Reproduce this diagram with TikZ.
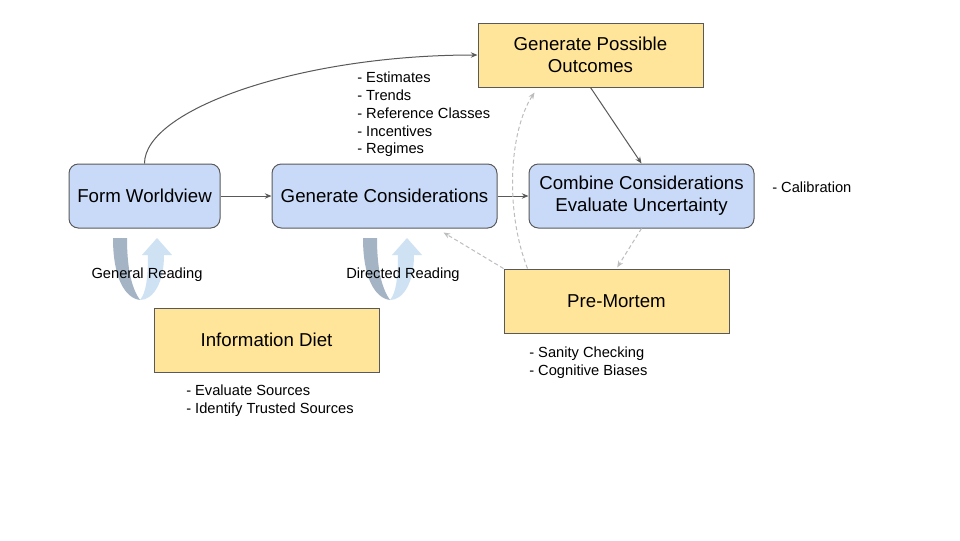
\documentclass[tikz,border=0pt]{standalone}
\usepackage{fontspec}
\setmainfont{Liberation Sans}
\usepackage{xcolor}
\usetikzlibrary{arrows.meta}
\definecolor{boxblue}{HTML}{C9DAF8}
\definecolor{boxyellow}{HTML}{FFE599}
\definecolor{edgegray}{HTML}{595959}
\definecolor{dashgray}{HTML}{BDBDBD}
\definecolor{banddark}{HTML}{A4B4C4}
\definecolor{bandlight}{HTML}{CFE2F3}
\tikzset{
  bluebox/.style={draw=edgegray, fill=boxblue, rounded corners=7pt, line width=0.75pt,
    minimum height=48pt, minimum width=168.75pt, align=center, font=\fontsize{14}{16.5}\selectfont},
  yellowbox/.style={draw=edgegray, fill=boxyellow, line width=0.75pt,
    minimum height=48pt, minimum width=168.75pt, align=center, font=\fontsize{14}{16.5}\selectfont},
  conn/.style={draw=edgegray, line width=0.75pt, -{Stealth[length=5pt,width=4pt]}},
  dashconn/.style={draw=dashgray, line width=0.75pt, dash pattern=on 3pt off 2pt, -{Stealth[length=5pt,width=4pt]}},
  note/.style={font=\fontsize{11}{13.3}\selectfont, align=left, anchor=west, inner sep=0pt},
  uturn/.pic={
    \fill[banddark] (0,0) -- (14,0) .. controls (14,35) and (20,52) .. (27,62)
      .. controls (12,60) and (0,40) .. cycle;
    \fill[bandlight] (27,62) .. controls (33,55) and (35,40) .. (35,17) -- (29,17) -- (44,0)
      -- (59,17) -- (51,17) .. controls (51,45) and (40,62) .. cycle;
  }
}
\begin{document}
\begin{tikzpicture}[x=0.75pt,y=-0.75pt]
	% Nền
	\fill[white] (0,0) rectangle (960,540);
	\useasboundingbox (0,0) rectangle (960,540);
	% Mũi tên vòng
	\pic at (113,238) {uturn};
	\pic at (363,238) {uturn};
	% Các khối
	\node[bluebox, minimum width=113.25pt] (worldview) at (144.5,196) {Form Worldview};
	\node[bluebox] (gencons) at (384.5,196) {Generate Considerations};
	\node[bluebox] (combine) at (641.5,196) {Combine Considerations\\Evaluate Uncertainty};
	\node[yellowbox] (outcomes) at (590.5,55) {Generate Possible\\Outcomes};
	\node[yellowbox] (premortem) at (616.5,301) {Pre-Mortem};
	\node[yellowbox] (diet) at (266.5,340) {Information Diet};
	% Ghi chú
	\node[note] (consnotes) at (357,114.5) {- Estimates\\- Trends\\- Reference Classes\\- Incentives\\- Regimes};
	\node[note] (calib) at (772,187.5) {- Calibration};
	\node[note] (checks) at (529,363) {- Sanity Checking\\- Cognitive Biases};
	\node[note] (sources) at (186,401) {- Evaluate Sources\\- Identify Trusted Sources};
	\node[note, anchor=center] (general) at (147,275) {General Reading};
	\node[note, anchor=center] (directed) at (403,275) {Directed Reading};
	% Các mũi tên
	\draw[conn] (worldview) -- (gencons);
	\draw[conn] (gencons) -- (combine);
	\draw[conn] (outcomes.south) -- (combine.north);
	\draw[conn] (worldview.north) .. controls +(0,-54) and +(-178,0) .. (outcomes.west);
	\draw[dashconn] ([xshift=18pt]premortem.north west) .. controls +(-23,-59) and +(-25,38) .. ([xshift=42.75pt,yshift=-3.75pt]outcomes.south west);
	\draw[dashconn] (premortem.north west) -- ([xshift=-40.5pt,yshift=-3pt]gencons.south east);
	\draw[dashconn, shorten >=1pt] (combine.south) -- (premortem.north);
\end{tikzpicture}
\end{document}
